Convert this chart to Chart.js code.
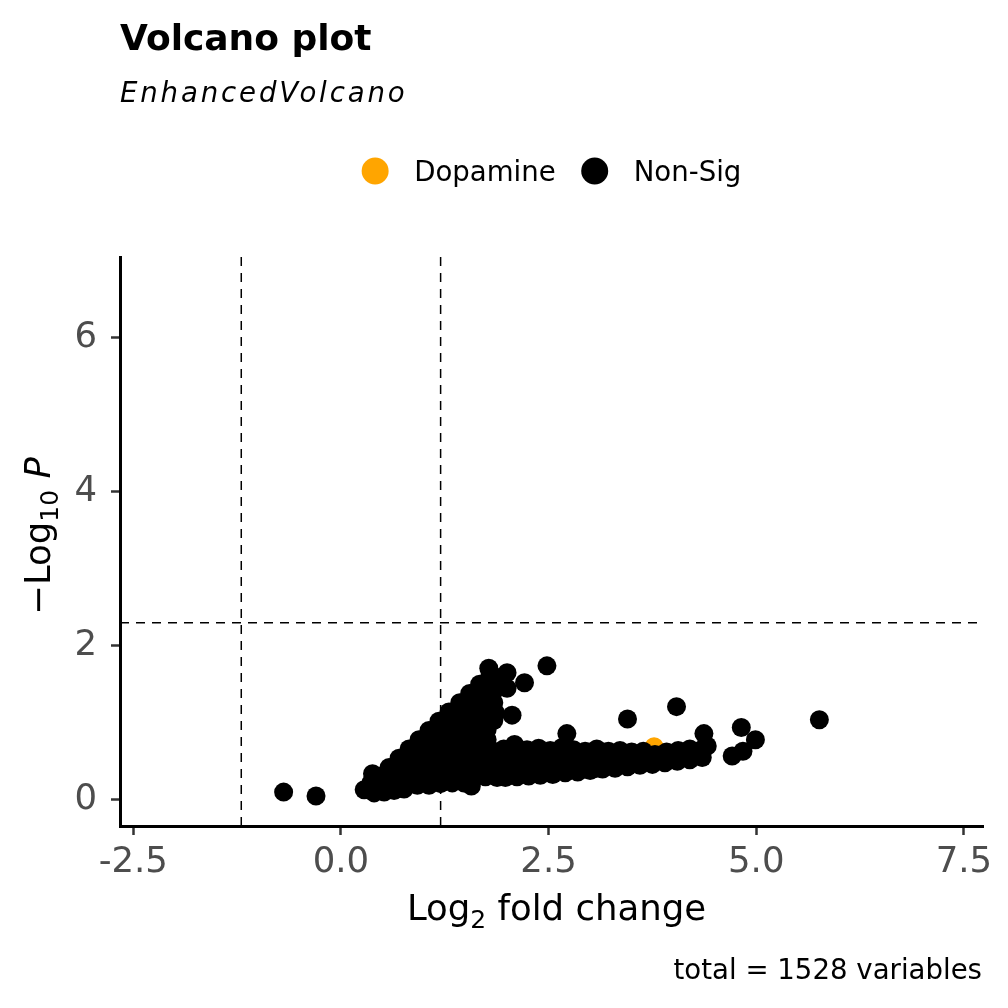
<!DOCTYPE html>
<html>
<head>
<meta charset="utf-8">
<script src="https://cdn.jsdelivr.net/npm/chart.js@4.4.1/dist/chart.umd.min.js"></script>
<style>
  html, body { margin: 0; padding: 0; background: #fff; }
  #wrap { width: 1008px; height: 1008px; }
</style>
</head>
<body>
<div id="wrap"><canvas id="volcano" width="1008" height="1008"></canvas></div>
<script>
// axis ticks and cutoffs
const xTicks = [-2.5, 0, 2.5, 5, 7.5];
const yTicks = [0, 2, 4, 6];
const fcCutoffs = [-1.2, 1.2];
const pCutoffs = [2.3];

// Dopamine (orange) points
const dopamine = [[1.21, 0.40], [3.77, 0.69]];

// Non-Sig points: wedge on the left
const nonSigWedge = [
  [0.28, 0.13], [0.40, 0.09], [0.52, 0.10], [0.64, 0.12], [0.76, 0.14],
  [0.36, 0.22], [0.50, 0.19], [0.64, 0.20], [0.78, 0.18], [0.92, 0.19], [1.06, 0.19], [1.20, 0.21], [1.34, 0.22], [1.48, 0.22], [1.57, 0.18],
  [0.38, 0.34], [0.48, 0.31], [0.62, 0.29], [0.76, 0.30], [0.90, 0.28], [1.04, 0.30], [1.18, 0.29], [1.32, 0.31], [1.46, 0.30], [1.60, 0.28], [1.74, 0.30], [1.88, 0.29],
  [0.58, 0.42], [0.72, 0.41], [0.86, 0.43], [1.00, 0.42], [1.14, 0.41], [1.28, 0.43], [1.42, 0.42], [1.56, 0.41], [1.70, 0.43], [1.84, 0.42],
  [0.70, 0.54], [0.84, 0.53], [0.98, 0.55], [1.12, 0.54], [1.26, 0.53], [1.40, 0.55], [1.54, 0.54], [1.68, 0.53], [1.82, 0.55],
  [0.82, 0.66], [0.96, 0.65], [1.10, 0.67], [1.24, 0.66], [1.38, 0.65], [1.52, 0.67], [1.66, 0.66], [1.80, 0.65],
  [0.94, 0.78], [1.08, 0.77], [1.22, 0.79], [1.36, 0.78], [1.50, 0.77], [1.64, 0.79], [1.76, 0.78],
  [1.06, 0.90], [1.20, 0.89], [1.34, 0.91], [1.48, 0.90], [1.62, 0.89], [1.76, 0.91],
  [1.18, 1.02], [1.32, 1.01], [1.46, 1.03], [1.60, 1.02], [1.74, 1.01], [1.84, 1.03],
  [1.30, 1.14], [1.44, 1.13], [1.58, 1.15], [1.72, 1.14], [1.86, 1.13],
  [1.43, 1.26], [1.57, 1.25], [1.71, 1.27], [1.84, 1.26],
  [1.55, 1.38], [1.69, 1.37], [1.83, 1.39],
  [1.67, 1.50], [1.81, 1.49], [1.93, 1.51],
  [1.79, 1.60], [1.91, 1.59]
];

// Non-Sig points: long band to the right
const nonSigBand = [
  [1.96, 0.66], [2.09, 0.72], [2.24, 0.65], [2.38, 0.67], [2.52, 0.64], [2.66, 0.68], [2.80, 0.65], [2.94, 0.63], [3.08, 0.66], [3.22, 0.63],
  [3.36, 0.64], [3.50, 0.62], [3.64, 0.63], [3.78, 0.59], [3.92, 0.62], [4.06, 0.64], [4.20, 0.66], [4.34, 0.65], [4.41, 0.70],
  [1.96, 0.52], [2.10, 0.53], [2.24, 0.51], [2.38, 0.53], [2.52, 0.52], [2.66, 0.51], [2.80, 0.53], [2.94, 0.52], [3.08, 0.51], [3.22, 0.53],
  [3.36, 0.52], [3.50, 0.51], [3.64, 0.53], [3.78, 0.52], [3.92, 0.53], [4.06, 0.52], [4.20, 0.54], [4.34, 0.56],
  [1.96, 0.40], [2.10, 0.41], [2.24, 0.39], [2.38, 0.41], [2.52, 0.40], [2.66, 0.39], [2.80, 0.41], [2.94, 0.40], [3.08, 0.41],
  [1.98, 0.29], [2.12, 0.30], [2.26, 0.31],
  [2.40, 0.32], [2.55, 0.33], [2.70, 0.35], [2.85, 0.36], [3.00, 0.38], [3.15, 0.40], [3.30, 0.41], [3.45, 0.43],
  [3.60, 0.45], [3.75, 0.46], [3.90, 0.48], [4.05, 0.50], [4.20, 0.52], [4.35, 0.55]
];

// Non-Sig points standing apart
const nonSigOutliers = [
  [-0.69, 0.10], [-0.30, 0.05], [5.76, 1.04], [4.04, 1.21], [3.45, 1.05],
  [4.82, 0.94], [4.99, 0.78], [4.71, 0.57], [4.84, 0.63], [4.37, 0.86],
  [2.72, 0.86], [2.06, 1.10], [1.78, 1.71], [2.00, 1.65], [2.21, 1.52], [2.48, 1.74], [2.00, 1.45]
];

const FONT = "'DejaVu Sans', sans-serif";
const toXY = arr => arr.map(p => ({ x: p[0], y: p[1] }));

// draws text made of parts (sub-scripts, italics) along a baseline
function drawParts(ctx, parts, x, y, align) {
  const widths = parts.map(p => {
    ctx.font = `${p.style || 'normal'} ${p.weight || 'normal'} ${p.size}px ${FONT}`;
    return ctx.measureText(p.text).width;
  });
  const total = widths.reduce((a, b) => a + b, 0);
  let cx = align === 'center' ? x - total / 2 : (align === 'right' ? x - total : x);
  ctx.textAlign = 'left';
  ctx.textBaseline = 'alphabetic';
  parts.forEach((p, i) => {
    ctx.font = `${p.style || 'normal'} ${p.weight || 'normal'} ${p.size}px ${FONT}`;
    ctx.fillText(p.text, cx, y + (p.dy || 0));
    cx += widths[i];
  });
}

const decor = {
  id: 'decor',
  afterDatasetsDraw(chart) {
    const { ctx, chartArea: a, scales: { x, y } } = chart;
    ctx.save();
    ctx.strokeStyle = '#000';
    ctx.lineWidth = 1.5;
    ctx.setLineDash([9, 7]);
    fcCutoffs.forEach(v => {
      const px = x.getPixelForValue(v);
      ctx.beginPath(); ctx.moveTo(px, a.top); ctx.lineTo(px, a.bottom); ctx.stroke();
    });
    pCutoffs.forEach(v => {
      const py = y.getPixelForValue(v);
      ctx.beginPath(); ctx.moveTo(a.left, py); ctx.lineTo(a.right, py); ctx.stroke();
    });
    ctx.restore();
  },
  afterDraw(chart) {
    const { ctx, chartArea: a } = chart;
    ctx.save();
    ctx.fillStyle = '#000';
    // title + subtitle
    drawParts(ctx, [{ text: 'Volcano plot', size: 36, weight: 'bold' }], 120, 50, 'left');
    ctx.font = `italic 27.6px ${FONT}`;
    ctx.letterSpacing = '2.85px';
    ctx.textAlign = 'left';
    ctx.fillText('EnhancedVolcano', 120, 102);
    ctx.letterSpacing = '0px';

    // legend, centred over the panel
    ctx.font = `27.6px ${FONT}`;
    const items = chart.data.datasets.map(d => ({ label: d.label, color: d.backgroundColor }));
    const r = 13.5, gapKey = 39, gapItem = 39;
    const widths = items.map(it => ctx.measureText(it.label).width);
    const total = items.reduce((s, it, i) => s + gapKey + widths[i], 0) + gapItem * (items.length - 1) + r;
    let lx = (a.left + a.right) / 2 - total / 2 + r;
    items.forEach((it, i) => {
      ctx.fillStyle = it.color;
      ctx.beginPath(); ctx.arc(lx, 171, r, 0, Math.PI * 2); ctx.fill();
      ctx.fillStyle = '#000';
      ctx.textBaseline = 'alphabetic';
      ctx.fillText(it.label, lx + gapKey, 181);
      lx += gapKey + widths[i] + gapItem;
    });

    // axis titles
    drawParts(ctx, [
      { text: 'Log', size: 35.5 },
      { text: '2', size: 25, dy: 8 },
      { text: ' fold change', size: 35.5 }
    ], (a.left + a.right) / 2 + 5, 920, 'center');

    ctx.save();
    ctx.translate(50, 536);
    ctx.rotate(-Math.PI / 2);
    drawParts(ctx, [
      { text: '\u2212Log', size: 35.5 },
      { text: '10', size: 25, dy: 8 },
      { text: ' ', size: 35.5 },
      { text: 'P', size: 35.5, style: 'italic' }
    ], 0, 0, 'center');
    ctx.restore();

    // caption
    drawParts(ctx, [{ text: 'total = 1528 variables', size: 27.6 }], 982, 979, 'right');
    ctx.restore();
  }
};

const tickFont = { family: FONT, size: 35.5 };

new Chart(document.getElementById('volcano'), {
  type: 'scatter',
  data: {
    datasets: [
      {
        label: 'Dopamine',
        data: toXY(dopamine),
        backgroundColor: '#FFA500',
        order: 1
      },
      {
        label: 'Non-Sig',
        data: toXY(nonSigWedge.concat(nonSigBand, nonSigOutliers)),
        backgroundColor: '#000000',
        order: 0
      }
    ]
  },
  options: {
    responsive: false,
    animation: false,
    events: [],
    elements: { point: { radius: 9.5, hoverRadius: 9.5, borderWidth: 0 } },
    layout: { padding: { top: 257, right: 25, left: 0, bottom: 0 } },
    plugins: { legend: { display: false }, tooltip: { enabled: false } },
    scales: {
      x: {
        type: 'linear',
        min: -2.66,
        max: 7.73,
        afterBuildTicks: s => { s.ticks = xTicks.map(v => ({ value: v })); },
        afterFit: s => { s.height = 182; },
        border: { display: true, color: '#000', width: 3 },
        grid: { drawOnChartArea: false, drawTicks: true, tickLength: 9, tickColor: '#333333', tickWidth: 2.5 },
        ticks: { font: tickFont, color: '#4D4D4D', padding: 6, maxRotation: 0, autoSkip: false,
                 callback: v => v.toFixed(1) }
      },
      y: {
        type: 'linear',
        min: -0.34,
        max: 7.05,
        afterBuildTicks: s => { s.ticks = yTicks.map(v => ({ value: v })); },
        afterFit: s => { s.width = 120; },
        border: { display: true, color: '#000', width: 3 },
        grid: { drawOnChartArea: false, drawTicks: true, tickLength: 9, tickColor: '#333333', tickWidth: 2.5 },
        ticks: { font: tickFont, color: '#4D4D4D', padding: 14, autoSkip: false,
                 callback: v => String(v) }
      }
    }
  },
  plugins: [decor]
});
</script>
</body>
</html>
